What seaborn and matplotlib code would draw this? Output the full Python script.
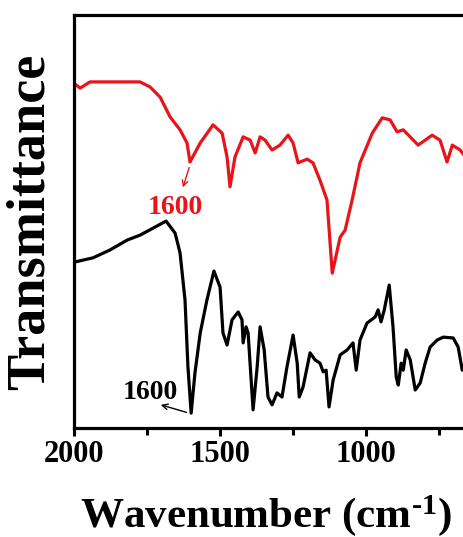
import matplotlib
matplotlib.use("Agg")
import matplotlib.pyplot as plt
import seaborn as sns
import pandas as pd

# ---- data ----
red_wn = [1997, 1979, 1945, 1774, 1740, 1705, 1671, 1637, 1613, 1603, 1568, 1524, 1493, 1476,
          1466, 1449, 1421, 1397, 1380, 1363, 1346, 1322, 1295, 1267, 1250, 1233, 1202, 1182,
          1158, 1134, 1116, 1089, 1072, 1048, 1021, 979, 945, 918, 894, 873, 822, 774, 747,
          723, 705, 678, 658, 640]
red_T = [83.3, 82.3, 83.8, 83.8, 82.6, 80.1, 75.3, 72.2, 69.0, 64.4, 69.0, 73.4, 71.4, 65.6,
         58.4, 65.6, 70.5, 69.7, 66.6, 70.5, 69.7, 67.3, 68.5, 70.9, 69.0, 64.2, 65.1, 64.2,
         60.0, 55.2, 37.5, 46.2, 47.9, 55.2, 64.2, 71.4, 75.1, 74.6, 71.7, 72.2, 68.5, 70.9,
         69.7, 64.4, 68.5, 67.3, 65.4, 66.0]

black_wn = [1997, 1935, 1877, 1818, 1774, 1729, 1685, 1654, 1637, 1620, 1610, 1599, 1586, 1568,
            1545, 1521, 1500, 1490, 1476, 1459, 1438, 1425, 1421, 1411, 1404, 1387, 1373, 1363,
            1349, 1336, 1322, 1305, 1288, 1271, 1250, 1236, 1229, 1216, 1192, 1175, 1158, 1147,
            1137, 1127, 1113, 1089, 1065, 1045, 1034, 1021, 997, 969, 959, 949, 938, 921, 908,
            897, 890, 880, 873, 863, 849, 832, 815, 798, 781, 757, 736, 702, 685, 671, 658, 640]
black_T = [40.2, 41.2, 43.1, 45.5, 46.7, 48.4, 50.1, 47.2, 42.4, 31.0, 14.8, 3.6, 13.3, 23.0,
           31.0, 38.0, 34.1, 23.0, 20.1, 26.2, 28.1, 26.2, 20.6, 24.5, 23.0, 4.4, 14.8, 24.5,
           18.9, 7.5, 5.6, 8.5, 7.5, 14.8, 22.5, 15.7, 7.5, 9.9, 18.2, 16.5, 15.7, 13.6,
           14.0, 5.1, 11.6, 17.7, 18.9, 20.6, 14.0, 21.3, 25.4, 26.9, 28.6, 25.7, 28.6, 34.6, 24.5,
           12.3, 10.4, 15.7, 14.0, 18.9, 16.5, 9.2, 10.9, 15.7, 19.6, 21.3, 22.0, 21.8, 19.6, 14.0, 16.5, 18.0]

x_ticks = [2000, 1500, 1000]
x_tick_labels = ["2000", "1500", "1000"]
peak_label = "1600"

# ---- style ----
sns.set_style("ticks")
plt.rcParams['font.family'] = ['Liberation Serif', 'DejaVu Serif']
plt.rcParams['font.weight'] = 'bold'
plt.rcParams['mathtext.fontset'] = 'custom'
plt.rcParams['mathtext.rm'] = 'Liberation Serif:bold'
plt.rcParams['mathtext.it'] = 'Liberation Serif:bold'
plt.rcParams['mathtext.bf'] = 'Liberation Serif:bold'
plt.rcParams['mathtext.default'] = 'rm'
plt.rcParams['text.color'] = 'black'
plt.rcParams['axes.labelcolor'] = 'black'
plt.rcParams['axes.edgecolor'] = 'black'
plt.rcParams['xtick.color'] = 'black'
plt.rcParams['ytick.color'] = 'black'

RED = '#e8141a'

fig = plt.figure(figsize=(4.64, 5.37), dpi=100)
ax = fig.add_axes([74 / 464, 109 / 537, 409 / 464, 413 / 537])

df_red = pd.DataFrame({'wn': red_wn, 'T': red_T})
df_black = pd.DataFrame({'wn': black_wn, 'T': black_T})
sns.lineplot(data=df_red, x='wn', y='T', ax=ax, color=RED, lw=2.3, estimator=None, sort=False)
sns.lineplot(data=df_black, x='wn', y='T', ax=ax, color='black', lw=2.3, estimator=None, sort=False)

ax.set_xlim(2000, 600)
ax.set_ylim(0, 100)
ax.set_xticks(x_ticks)
ax.set_xticklabels(x_tick_labels, fontsize=22, fontweight='bold')
ax.set_xticks([1750, 1250, 750], minor=True)
ax.tick_params(axis='x', which='major', direction='out', length=6, width=2.2, pad=3, colors='black')
ax.tick_params(axis='x', which='minor', direction='out', length=5, width=2.2, colors='black')
ax.set_yticks([])
for s in ax.spines.values():
    s.set_linewidth(2.3)
    s.set_color('black')
    s.set_visible(True)

ax.set_xlabel(r'Wavenumber (cm$^{\text{-1}}$)', fontsize=31, fontweight='bold', color='black')
ax.xaxis.set_label_coords(0.47, -0.158)
ax.set_ylabel('Transmittance', fontsize=39, fontweight='bold', color='black')
ax.yaxis.set_label_coords(-0.045, 0.5)

# annotations
ax.annotate('', xy=(1630, 57.6), xytext=(1603, 63.7),
            arrowprops=dict(arrowstyle='->', color=RED, lw=1.0))
ax.text(1654, 53.3, peak_label, color=RED, fontsize=20, fontweight='bold', ha='center', va='center')
ax.annotate('', xy=(1712, 5.8), xytext=(1606, 3.6),
            arrowprops=dict(arrowstyle='->', color='black', lw=1.0))
ax.text(1740, 8.7, peak_label, color='black', fontsize=20, fontweight='bold', ha='center', va='center')

fig.savefig('out.png', dpi=100)
